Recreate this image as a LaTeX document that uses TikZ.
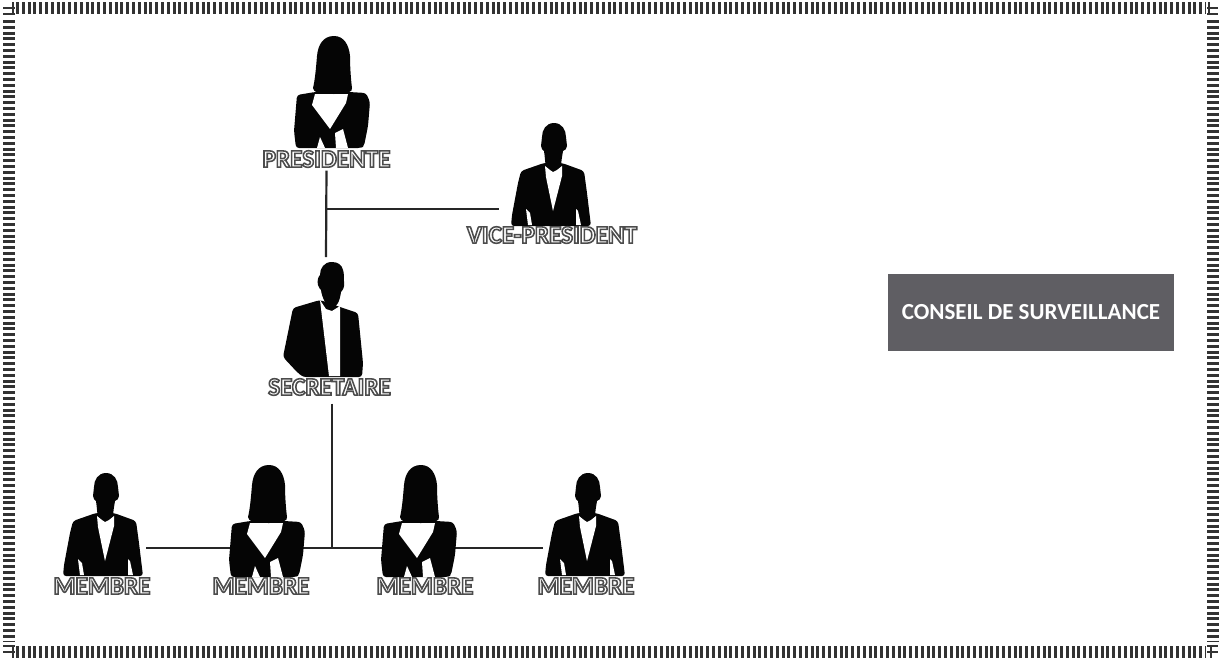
\documentclass[tikz,border=0pt]{standalone}
\usepackage{fontspec}
\setmainfont{Carlito}
\newfontfamily\rolefont{Carlito}[BoldFeatures={FakeBold=6.2}]
\definecolor{sil}{HTML}{050505}
\definecolor{rulec}{HTML}{262626}
\definecolor{hatch}{HTML}{333333}
\definecolor{boxc}{HTML}{5F5E63}
\newcommand{\outlined}[1]{\special{pdf:bcolor [1] [0.30]}#1\special{pdf:ecolor}}
\tikzset{
  x=1pt,y=-1pt,
  silh/.style={fill=sil,draw=none,rounded corners=3pt},
  gap/.style={fill=white,draw=none},
  link/.style={draw=rulec,line width=2.2pt},
  role/.style={inner sep=0pt,font=\fontsize{25.2}{26}\selectfont\rolefont\bfseries},
  hatchline/.style={draw=hatch,line width=12pt,dash pattern=on 3pt off 2.8pt},
  hatchtick/.style={draw=hatch,line width=2.2pt},
  man/.pic={
    \path[silh] (-10,40) -- (-33,48) -- (-36,60) -- (-42,92) -- (-43,103) -- (37,103) -- (33,70) -- (30,48) -- (8,40) -- cycle;
    \path[fill=sil] (0,0) .. controls (-8,0) and (-12,7) .. (-12,14) .. controls (-12,17) and (-13,20) .. (-13,23) .. controls (-13,26) and (-11,27) .. (-10,28) .. controls (-9,34) and (-9,40) .. (-8,44) -- (7,44) .. controls (7,40) and (8,34) .. (9,28) .. controls (11,27) and (13,26) .. (13,23) .. controls (13,20) and (12,17) .. (12,14) .. controls (12,7) and (8,0) .. (0,0) -- cycle;
    \path[gap] (-9,43) -- (-4,47) -- (-1,49) -- (3,47) -- (8,43) -- (8,53) -- (-1,88) -- (-8,54) -- cycle;
    \path[gap] (-28,86) -- (-24,90) -- (-22,102) -- (-26,102) -- cycle;
    \path[gap] (22,86) -- (24,88) -- (27,102) -- (22,102) -- cycle;
  },
  woman/.pic={
    \path[silh] (-36,59) -- (-18,56) -- (16,56) -- (33,57) -- (37,66) -- (35,90) -- (31,110) -- (28,112) -- (-37,112) -- (-39,95) -- cycle;
    \path[gap] (-18,58) -- (-21,69) -- (-3,93) -- (13,67) -- (15,58) -- cycle;
    \path[gap] (-16,112) -- (-13,101) -- (-8,112) -- cycle;
    \path[gap] (2,97) -- (10,93) -- (15,112) -- (3,112) -- cycle;
    \path[fill=sil] (1,0) .. controls (-10,0) and (-15,9) .. (-16,20) .. controls (-17,32) and (-18,44) .. (-20,52) .. controls (-20,56) and (-14,58) .. (1,58) .. controls (14,58) and (20,56) .. (19,52) .. controls (18,44) and (17,32) .. (17,20) .. controls (16,9) and (11,0) .. (1,0) -- cycle;
  },
}
\begin{document}
\begin{tikzpicture}
\useasboundingbox (0,0) rectangle (1219,659);
% hatched frame
\path[hatchline] (16,8) -- (1206,8);
\path[hatchline] (16,652) -- (1206,652);
\path[hatchline] (9,20) -- (9,642);
\path[hatchline] (1213,20) -- (1213,642);
\path[hatchtick] (13,2) -- (13,14) (3,8) -- (15,8) (3,14) -- (15,14);
\path[hatchtick] (1209,2) -- (1209,14) (1207,8) -- (1218,8) (1207,14) -- (1218,14);
\path[hatchtick] (13,646) -- (13,658) (3,646) -- (15,646) (3,652) -- (15,652);
\path[hatchtick] (1211,646) -- (1211,658) (1207,646) -- (1218,646) (1207,652) -- (1218,652);

% anchors of the connectors
\coordinate (vpEnd) at (499,209);
\coordinate (presBranch) at (326,209);
\coordinate (secTop) at (326,257);
\coordinate (memberBranch) at (332,548);
\coordinate (m1End) at (146,548);
\coordinate (m4End) at (543,548);

% line behind the members
\draw[link] (m1End) -- (m4End);

% silhouettes
\pic at (333,36) {woman};
\pic at (554,123) {man};
\pic at (106,473) {man};
\pic at (268,465) {woman};
\pic at (420,465) {woman};
\pic at (588,473) {man};
% secretary silhouette
\path[silh] (320,300) -- (293,308) -- (283,357) -- (297,372) -- (303,377) -- (362,377) -- (363,363) -- (358,313) -- (340,307) -- cycle;
\path[fill=sil] (332,262) .. controls (324,262) and (320,268) .. (320,275) .. controls (318,277) and (317,281) .. (318,285) .. controls (319,288) and (320,289) .. (321,290) .. controls (322,298) and (327,308) .. (332,308) .. controls (337,308) and (340,300) .. (341,292) .. controls (343,290) and (345,286) .. (344,282) .. controls (344,278) and (344,272) .. (343,270) .. controls (342,265) and (338,262) .. (332,262) -- cycle;
\path[gap] (320,300) -- (326,309) -- (332,311) -- (340,306) -- (340,376) -- (329,376) -- cycle;

% role labels
\node[role] (pres) at (326.5,159) {\outlined{PRESIDENTE}};
\node[role] (vice) at (552,235) {\outlined{VICE-PRESIDENT}};
\node[role] (secr) at (329.5,387) {\outlined{SECRETAIRE}};
\node[role] (m1) at (102,586) {\outlined{MEMBRE}};
\node[role] (m2) at (261,586) {\outlined{MEMBRE}};
\node[role] (m3) at (425,586) {\outlined{MEMBRE}};
\node[role] (m4) at (586,586) {\outlined{MEMBRE}};

% connectors
\draw[link,shorten <=3pt] (pres.south) -- (secTop);
\draw[link] (presBranch) -- (vpEnd);
\draw[link] (secr.south -| memberBranch) ++(0,8) -- (memberBranch);

% box
\node[fill=boxc,text=white,minimum width=286pt,minimum height=77pt,inner sep=0pt,font=\fontsize{23}{24}\selectfont\bfseries] (conseil) at (1031,312.5) {CONSEIL DE SURVEILLANCE};
\end{tikzpicture}
\end{document}
